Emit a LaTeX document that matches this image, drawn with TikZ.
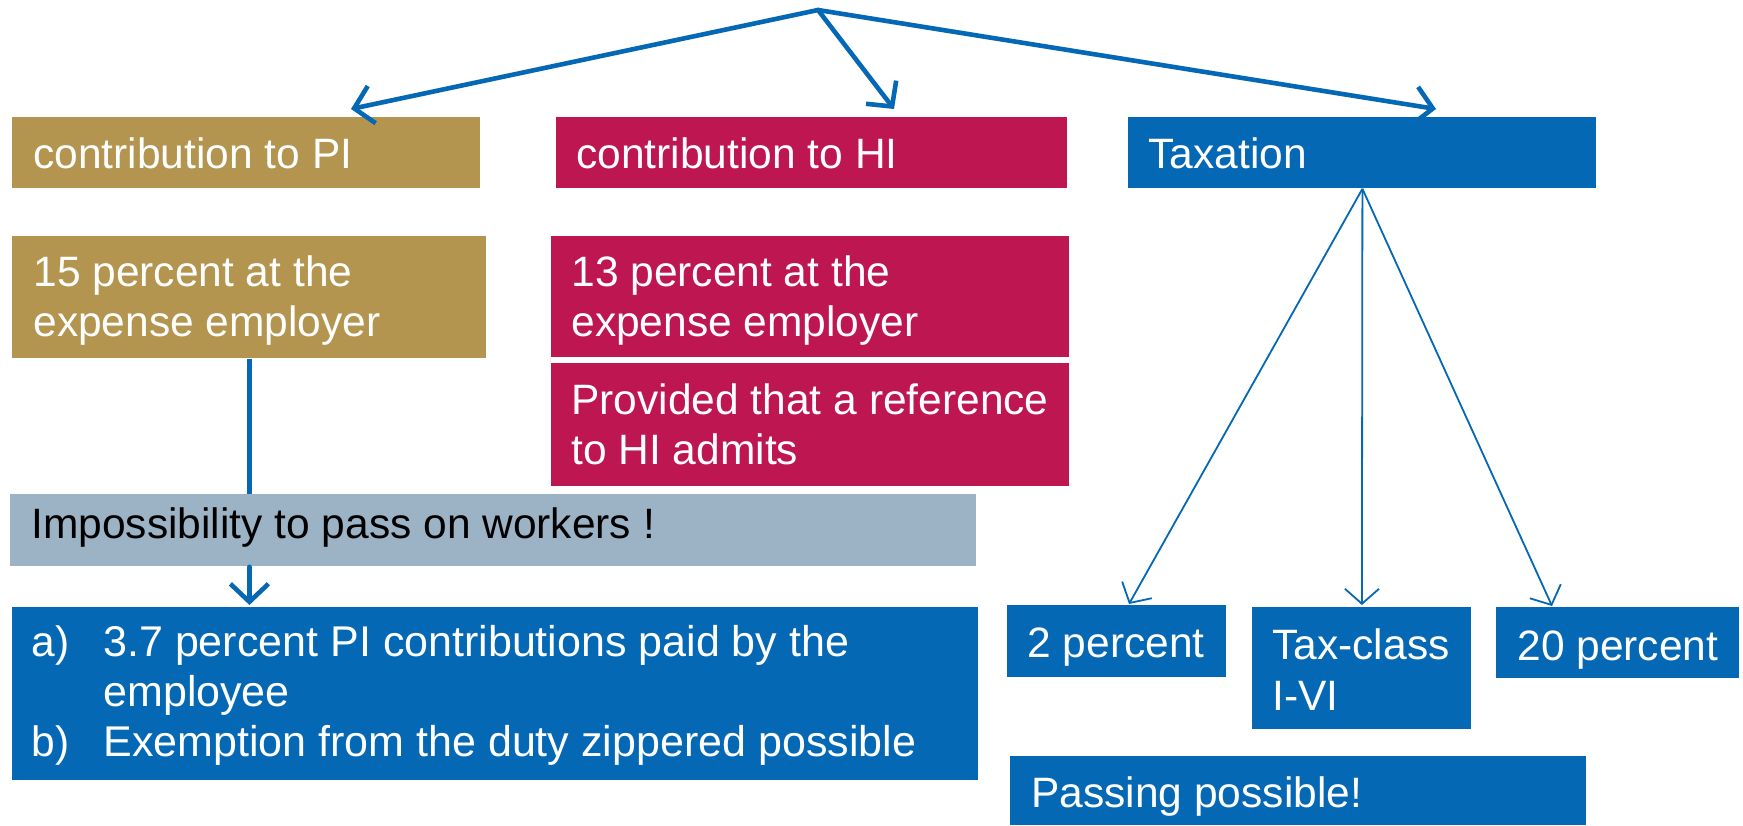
\documentclass[tikz,border=0pt]{standalone}
\usepackage{fontspec}
\setmainfont{Liberation Sans}
\usetikzlibrary{arrows.meta}

\definecolor{gold}{HTML}{B4954F}
\definecolor{berry}{HTML}{BE1650}
\definecolor{corp}{HTML}{0468B5}
\definecolor{slate}{HTML}{9CB3C6}

\tikzset{
  box/.style={rectangle, draw=none, fill=#1, inner sep=0pt, anchor=north west},
  txt/.style={anchor=base west, inner sep=0pt, text=white,
              font=\fontsize{21.25pt}{25pt}\selectfont},
  dark/.style={text=black},
  bigarrow/.style={draw=corp, line width=2.3pt, line cap=round,
                   -{Straight Barb[length=9pt, width=19pt, line width=2.3pt]}},
  bigline/.style={draw=corp, line width=2.3pt},
  thinarrow/.style={draw=corp, line width=0.9pt,
                    -{Straight Barb[length=7.5pt, width=17pt, line width=0.9pt]}},
}

\begin{document}
\begin{tikzpicture}[x=0.5pt, y=-0.5pt]
  \useasboundingbox (0,0) rectangle (1743,825);

  % headers
  \node[box=gold,  minimum width=234pt,   minimum height=35.5pt] (pi)  at (12,117)   {};
  \node[box=berry, minimum width=255.5pt, minimum height=35.5pt] (hi)  at (556,117)  {};
  \node[box=corp,  minimum width=234pt,   minimum height=35.5pt] (tax) at (1128,117) {};
  \node[txt] (piT)  at (33,168)   {contribution to PI};
  \node[txt] (hiT)  at (576,168)  {contribution to HI};
  \node[txt] (taxT) at (1148,168) {Taxation};

  % pension insurance column
  \node[box=gold, minimum width=237pt, minimum height=61pt] (pib) at (12,236) {};
  \node[txt] (pib1) at (33,286) {15 percent at the};
  \node[txt] (pib2) at (33,336) {expense employer};

  % health insurance column
  \node[box=berry, minimum width=259pt, minimum height=60.5pt] (hib) at (551,236) {};
  \node[txt] (hib1) at (571,286) {13 percent at the};
  \node[txt] (hib2) at (571,336) {expense employer};
  \node[box=berry, minimum width=259pt, minimum height=61.5pt] (hic) at (551,363) {};
  \node[txt] (hic1) at (571,414) {Provided that a reference};
  \node[txt] (hic2) at (571,464) {to HI admits};

  % consequence for workers
  \node[box=slate, minimum width=483pt, minimum height=36pt] (imp) at (10,494) {};
  \node[txt, dark] (impT) at (31,538) {Impossibility to pass on workers !};

  \node[box=corp, minimum width=483pt, minimum height=86.5pt] (ab) at (12,607) {};
  \node[txt] (abA)  at (31,656)  {a)};
  \node[txt] (abA1) at (103,656) {\fontsize{21.5pt}{25pt}\selectfont 3.7 percent PI contributions paid by the};
  \node[txt] (abA2) at (103,706) {\fontsize{21.5pt}{25pt}\selectfont employee};
  \node[txt] (abB)  at (31,756)  {b)};
  \node[txt] (abB1) at (103,756) {\fontsize{21.5pt}{25pt}\selectfont Exemption from the duty zippered possible};

  % taxation options
  \node[box=corp, minimum width=109.5pt, minimum height=36pt]   (p2)  at (1007,605) {};
  \node[txt] (p2T) at (1027,657) {2 percent};
  \node[box=corp, minimum width=109.5pt, minimum height=61pt]   (tc)  at (1252,607) {};
  \node[txt] (tc1) at (1272,659) {Tax-class};
  \node[txt] (tc2) at (1272,710) {I-VI};
  \node[box=corp, minimum width=121.5pt, minimum height=35.5pt] (p20) at (1496,607) {};
  \node[txt] (p20T) at (1517,660) {20 percent};
  \node[box=corp, minimum width=288pt, minimum height=34.5pt]   (pass) at (1010,756) {};
  \node[txt] (passT) at (1031,807) {Passing possible!};

  % connectors from the top
  \coordinate (apex) at (818,10);
  \coordinate (piIn)  at (351,109);
  \coordinate (hiIn)  at (894,109);
  \coordinate (taxIn) at (1436,109);
  \draw[bigarrow] (apex) -- (piIn);
  \draw[bigarrow] (apex) -- (hiIn);
  \draw[bigarrow] (apex) -- (taxIn);

  % pension insurance chain
  \draw[bigline]  (pib.south) -- (pib.south |- imp.north);
  \draw[bigarrow] (pib.south |- imp.south) -- ([yshift=1pt]pib.south |- ab.north);

  % taxation branches
  \coordinate (p2In)  at (1129,604);
  \coordinate (p20In) at (1552,606);
  \draw[thinarrow] (tax.south) -- (p2In);
  \draw[thinarrow] (tax.south) -- ([yshift=1pt]tc.north);
  \draw[thinarrow] (tax.south) -- (p20In);
\end{tikzpicture}
\end{document}
